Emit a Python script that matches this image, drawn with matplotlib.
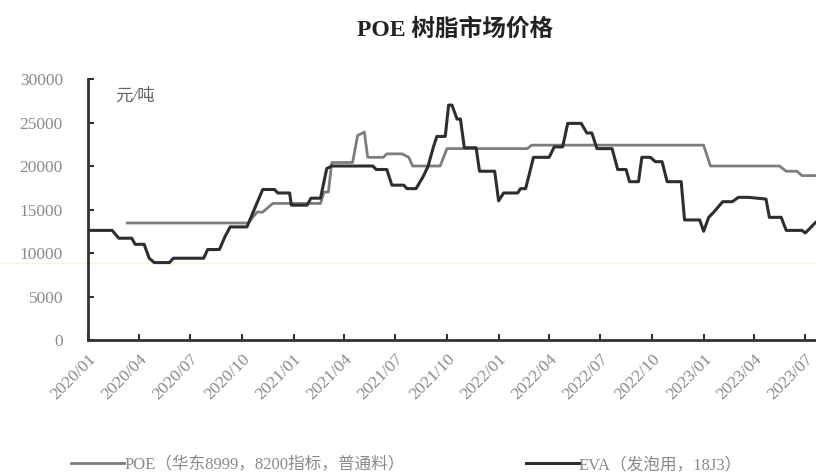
import matplotlib
matplotlib.use("Agg")
import matplotlib.pyplot as plt
import matplotlib.dates as mdates
import pandas as pd
from matplotlib.lines import Line2D

plt.rcParams['font.family'] = ['Liberation Serif', 'Noto Sans CJK SC']

# POE (华东8999, 8200指标, 普通料)
poe_dates = ["2020-03-11", "2020-10-12", "2020-10-28", "2020-11-07", "2020-11-25",
             "2021-02-18", "2021-02-24", "2021-03-04", "2021-03-10", "2021-04-16",
             "2021-04-25", "2021-05-07", "2021-05-13", "2021-06-10", "2021-06-16",
             "2021-07-13", "2021-07-25", "2021-08-01", "2021-09-19", "2021-10-01",
             "2022-02-21", "2022-03-01", "2023-01-01", "2023-01-13", "2023-05-16",
             "2023-05-28", "2023-06-16", "2023-06-25", "2023-07-19"]
poe_values = [13450, 13450, 14700, 14700, 15700,
              15700, 17000, 17000, 20400, 20400,
              23500, 23900, 21000, 21000, 21400,
              21400, 21000, 20000, 20000, 22000,
              22000, 22400, 22400, 20000, 20000,
              19400, 19400, 18900, 18900]

# EVA (发泡用, 18J3)
eva_dates = ["2020-01-01", "2020-02-13", "2020-02-25", "2020-03-19", "2020-03-25",
             "2020-04-10", "2020-04-19", "2020-04-28", "2020-05-25", "2020-06-01",
             "2020-07-25", "2020-08-01", "2020-08-22", "2020-09-01", "2020-09-07",
             "2020-09-10", "2020-10-10", "2020-11-07", "2020-11-28", "2020-12-04",
             "2020-12-25", "2020-12-28", "2021-01-25", "2021-02-01", "2021-02-18",
             "2021-03-01", "2021-03-10", "2021-05-22", "2021-05-28", "2021-06-16",
             "2021-06-25", "2021-07-16", "2021-07-22", "2021-08-07", "2021-08-19",
             "2021-08-28", "2021-09-07", "2021-09-13", "2021-09-28", "2021-10-04",
             "2021-10-10", "2021-10-19", "2021-10-25", "2021-11-01", "2021-11-22",
             "2021-11-28", "2021-12-25", "2022-01-01", "2022-01-10", "2022-02-04",
             "2022-02-09", "2022-02-18", "2022-02-24", "2022-03-04", "2022-04-01",
             "2022-04-10", "2022-04-25", "2022-05-04", "2022-05-28", "2022-06-07",
             "2022-06-16", "2022-06-25", "2022-07-22", "2022-08-01", "2022-08-16",
             "2022-08-22", "2022-09-07", "2022-09-13", "2022-09-28", "2022-10-07",
             "2022-10-19", "2022-10-28", "2022-11-22", "2022-11-28", "2022-12-25",
             "2023-01-01", "2023-01-10", "2023-01-19", "2023-02-04", "2023-02-21",
             "2023-03-04", "2023-03-22", "2023-04-22", "2023-04-28", "2023-05-19",
             "2023-05-28", "2023-06-25", "2023-07-01", "2023-07-19"]
eva_values = [12600, 12600, 11700, 11700, 11000,
              11000, 9400, 8900, 8900, 9400,
              9400, 10400, 10400, 11900, 12600,
              13000, 13000, 17300, 17300, 16900,
              16900, 15500, 15500, 16300, 16300,
              19700, 20000, 20000, 19600, 19600,
              17800, 17800, 17400, 17400, 18700,
              19900, 22200, 23400, 23400, 27000,
              27000, 25400, 25400, 22100, 22100,
              19400, 19400, 16000, 16900, 16900,
              17400, 17400, 18900, 21000, 21000,
              22200, 22200, 24900, 24900, 23800,
              23800, 22000, 22000, 19600, 19600,
              18200, 18200, 21000, 21000, 20500,
              20500, 18200, 18200, 13800, 13800,
              12500, 14100, 14700, 15900, 15900,
              16400, 16400, 16200, 14100, 14100,
              12600, 12600, 12300, 13500]

tick_dates = pd.date_range("2020-01-01", "2023-07-01", freq="QS")
title = "POE 树脂市场价格"
unit = "元/吨"
poe_label = "POE（华东8999，8200指标，普通料）"
eva_label = "EVA（发泡用，18J3）"

poe_color = "#7d7d7d"
eva_color = "#2e2e2e"
text_gray = "#8a8a8a"

fig = plt.figure(figsize=(8.16, 4.76), dpi=100)
ax = fig.add_axes([0.1078, 0.2857, 0.8922, 0.5483])

# faint yellow scan line seen across the reference image
fig.add_artist(Line2D([0, 1], [1 - 263 / 476] * 2, transform=fig.transFigure,
                      color="#fbf5c8", lw=1.0, zorder=0))

ax.plot(pd.to_datetime(poe_dates), poe_values, color=poe_color, lw=2.0, zorder=3)
ax.plot(pd.to_datetime(eva_dates), eva_values, color=eva_color, lw=2.2, zorder=4)

ax.set_ylim(0, 30000)
ax.set_yticks(range(0, 30001, 5000))
ax.set_xlim(pd.Timestamp("2020-01-01"), pd.Timestamp("2023-07-20"))
ax.set_xticks(tick_dates)
ax.xaxis.set_major_formatter(mdates.DateFormatter("%Y/%m"))
plt.setp(ax.get_xticklabels(), rotation=45, ha="right", rotation_mode="anchor")

for side in ("top", "right"):
    ax.spines[side].set_visible(False)
for side in ("left", "bottom"):
    ax.spines[side].set_color("#333333")
    ax.spines[side].set_linewidth(2.0)
ax.tick_params(axis="both", direction="in", length=4, width=1.5, color="#333333",
               labelcolor=text_gray, labelsize=12.5)
ax.tick_params(axis="y", pad=18)
ax.tick_params(axis="x", pad=8)
ax.patch.set_alpha(0)

ax.text(0.038, 0.965, unit, transform=ax.transAxes, fontsize=12.5, color="#666666",
        style="italic", va="top", ha="left")

fig.text(0.558, 0.937, title, ha="center", va="center", fontsize=17,
         fontweight="bold", color="#222222")

leg1 = fig.legend([Line2D([], [], color=poe_color, lw=2.0)], [poe_label],
                  loc="center left", bbox_to_anchor=(0.087, 0.023), frameon=False,
                  fontsize=12, labelcolor=text_gray, handlelength=3.2,
                  handletextpad=0.0, borderaxespad=0, borderpad=0)
leg2 = fig.legend([Line2D([], [], color=eva_color, lw=2.2)], [eva_label],
                  loc="center left", bbox_to_anchor=(0.644, 0.023), frameon=False,
                  fontsize=12, labelcolor=text_gray, handlelength=3.2,
                  handletextpad=0.0, borderaxespad=0, borderpad=0)

fig.savefig("out.png", dpi=100)
